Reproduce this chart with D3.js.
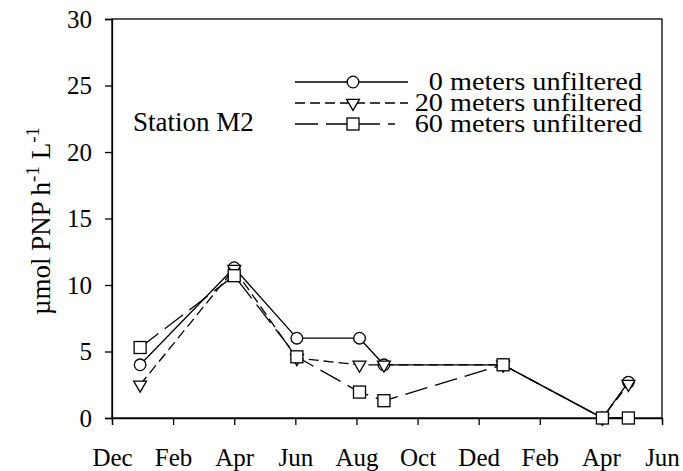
<!DOCTYPE html>
<html>
<head>
<meta charset="utf-8">
<script src="https://cdn.jsdelivr.net/npm/d3@7"></script>
<style>
  html, body { margin: 0; padding: 0; background: #fff; }
  svg { display: block; }
  text { font-family: "Liberation Serif", "Times New Roman", serif; fill: #000; }
</style>
</head>
<body>
<svg id="chart" width="683" height="471"></svg>
<script>
// ---- data ----
const tickMonths = [0, 2, 4, 6, 8, 10, 12, 14, 16, 18];
const tickLabels = ["Dec", "Feb", "Apr", "Jun", "Aug", "Oct", "Ded", "Feb", "Apr", "Jun"];
const yTicks = [0, 5, 10, 15, 20, 25, 30];
const sampleMonths = [0.92, 4.0, 6.05, 8.1, 8.9, 12.8, 16.05, 16.9];
const surface0m = [4.0, 11.3, 6.0, 6.0, 4.0, 4.0, 0, 2.7];
const depth20m = [2.5, 11.2, 4.5, 4.0, 4.0, 4.0, 0, 2.55];
const depth60m = [5.3, 10.7, 4.6, 1.95, 1.3, 4.0, 0, 0];
const seriesNames = ["0 meters unfiltered", "20 meters unfiltered", "60 meters unfiltered"];

// ---- layout ----
const W = 683, H = 471;
const m = { left: 112, right: 21, top: 19, bottom: 53 };
const svg = d3.select("#chart");
const serif = '"Liberation Serif", "Times New Roman", serif';

const x = d3.scaleLinear().domain([0, 18]).range([m.left, W - m.right]);
const y = d3.scaleLinear().domain([0, 30]).range([H - m.bottom, m.top]);

// frame
svg.append("rect")
  .attr("x", x(0)).attr("y", y(30))
  .attr("width", x(18) - x(0)).attr("height", y(0) - y(30))
  .attr("fill", "none").attr("stroke", "#000").attr("stroke-width", 1.3);

// axes
const xAxis = d3.axisBottom(x).tickValues(tickMonths)
  .tickFormat((d, i) => tickLabels[i]).tickSize(7).tickPadding(23);
const gx = svg.append("g").attr("transform", `translate(0,${y(0)})`).call(xAxis);
gx.select(".domain").attr("stroke-width", 1.3);
gx.selectAll(".tick line").attr("stroke-width", 1.3);
gx.selectAll("text").attr("font-size", 25).style("font-family", serif);

const yAxis = d3.axisLeft(y).tickValues(yTicks).tickSize(7).tickPadding(13);
const gy = svg.append("g").attr("transform", `translate(${x(0)},0)`).call(yAxis);
gy.select(".domain").attr("stroke-width", 1.3);
gy.selectAll(".tick line").attr("stroke-width", 1.3);
gy.selectAll("text").attr("font-size", 25).style("font-family", serif);

// y title
const yt = svg.append("text")
  .attr("transform", `translate(50,221) rotate(-90)`)
  .attr("text-anchor", "middle").attr("font-size", 27);
yt.append("tspan").text("\u00B5mol PNP h");
yt.append("tspan").attr("font-size", 19).attr("dy", -11).text("-1");
yt.append("tspan").attr("dy", 11).text(" L");
yt.append("tspan").attr("font-size", 19).attr("dy", -11).text("-1");

// station label
svg.append("text").attr("x", 133).attr("y", 131).attr("font-size", 27).text("Station M2");

// series
const series = [
  { name: seriesNames[0], values: surface0m, dash: null, sym: "circle" },
  { name: seriesNames[1], values: depth20m, dash: "10,5", sym: "tri" },
  { name: seriesNames[2], values: depth60m, dash: "23,8", sym: "square" }
];

const line = d3.line().x(d => x(d[0])).y(d => y(d[1]));

function drawMarker(g, sym, cx, cy) {
  if (sym === "circle") {
    g.append("circle").attr("cx", cx).attr("cy", cy).attr("r", 5.8)
      .attr("fill", "#fff").attr("stroke", "#000").attr("stroke-width", 1.3);
  } else if (sym === "tri") {
    g.append("path")
      .attr("d", d3.symbol().type(d3.symbolTriangle).size(72)())
      .attr("transform", `translate(${cx},${cy}) rotate(180)`)
      .attr("fill", "#fff").attr("stroke", "#000").attr("stroke-width", 1.3);
  } else {
    g.append("rect").attr("x", cx - 6).attr("y", cy - 6).attr("width", 12).attr("height", 12)
      .attr("fill", "#fff").attr("stroke", "#000").attr("stroke-width", 1.3);
  }
}

series.forEach(s => {
  const pts = sampleMonths.map((mo, i) => [mo, s.values[i]]);
  svg.append("path").attr("d", line(pts))
    .attr("fill", "none").attr("stroke", "#000").attr("stroke-width", 1.3)
    .attr("stroke-dasharray", s.dash);
});
series.forEach(s => {
  const g = svg.append("g");
  sampleMonths.forEach((mo, i) => drawMarker(g, s.sym, x(mo), y(s.values[i])));
});

// legend
const legY = [82, 103, 124];
const legX2 = [408, 408, 395];
series.forEach((s, i) => {
  const g = svg.append("g");
  g.append("line").attr("x1", 295).attr("x2", legX2[i]).attr("y1", legY[i]).attr("y2", legY[i])
    .attr("stroke", "#000").attr("stroke-width", 1.3).attr("stroke-dasharray", s.dash);
  drawMarker(g, s.sym, 353, legY[i]);
  g.append("text")
    .attr("transform", `translate(642,${legY[i] + 8}) scale(1.13,1)`)
    .attr("text-anchor", "end")
    .attr("font-size", 25)
    .text(s.name);
});
</script>
</body>
</html>
